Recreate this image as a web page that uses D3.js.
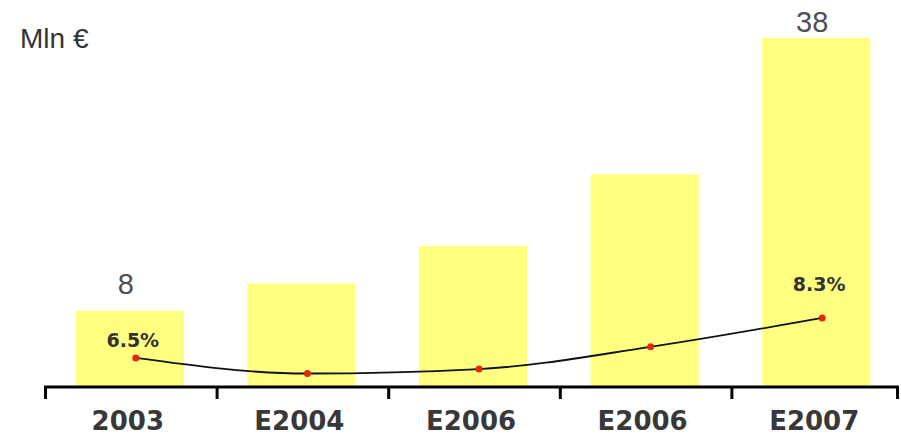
<!DOCTYPE html>
<html><head><meta charset="utf-8">
<script src="https://cdn.jsdelivr.net/npm/d3@7"></script>
<style>html,body{margin:0;padding:0;background:#fff;}svg{display:block;}</style>
</head><body>
<script>
const categories = ["2003", "E2004", "E2006", "E2006 ", "E2007"];
const tickLabels = ["2003", "E2004", "E2006", "E2006", "E2007"];
const revenue = [8.2, 11.2, 15.3, 23.1, 38];
const revenueLabels = ["8", "", "", "", "38"];
const growth = [6.5, 5.8, 6.0, 7.0, 8.3];
const growthLabels = ["6.5%", "", "", "", "8.3%"];
const unitLabel = "Mln €";

const W = 901, H = 438;
const svg = d3.select("body").append("svg").attr("width", W).attr("height", H);

const x = d3.scaleBand().domain(categories).range([44, 902]).paddingInner(0.37).paddingOuter(0.185);
const y = d3.scaleLinear().domain([0, 38]).range([386, 38]);
const y2 = d3.scaleLinear().domain([5, 9]).range([391.3, 302.4]);

const regularFont = "Liberation Sans, Arial, sans-serif";
const boldFont = "DejaVu Sans, Verdana, sans-serif";

// bars
svg.selectAll("rect.bar").data(categories).join("rect")
  .attr("class", "bar")
  .attr("x", d => x(d)).attr("width", x.bandwidth())
  .attr("y", (d, i) => y(revenue[i])).attr("height", (d, i) => y(0) - y(revenue[i]))
  .attr("fill", "#ffff80");

// value labels
svg.selectAll("text.val").data(categories).join("text")
  .attr("class", "val")
  .attr("x", d => x(d) + x.bandwidth() / 2 - 4)
  .attr("y", (d, i) => Math.max(y(revenue[i]) - 17, 32))
  .attr("text-anchor", "middle")
  .attr("font-family", regularFont)
  .attr("font-size", 29).attr("fill", "#505050")
  .text((d, i) => revenueLabels[i]);

// axis
const axisY = 387;
svg.append("line").attr("x1", 44).attr("x2", 899).attr("y1", axisY).attr("y2", axisY)
  .attr("stroke", "#000").attr("stroke-width", 3);
const bounds = d3.range(categories.length + 1).map(i => Math.min(x.range()[0] + 1.5 + i * x.step(), 897.5));
svg.selectAll("line.tick").data(bounds).join("line")
  .attr("class", "tick")
  .attr("x1", d => d).attr("x2", d => d).attr("y1", axisY).attr("y2", axisY + 12)
  .attr("stroke", "#000").attr("stroke-width", 3);
svg.selectAll("text.cat").data(categories).join("text")
  .attr("class", "cat")
  .attr("x", d => x(d) + x.bandwidth() / 2 - 2)
  .attr("y", 430)
  .attr("text-anchor", "middle")
  .attr("font-family", boldFont)
  .attr("font-weight", "bold").attr("font-size", 26).attr("fill", "#383838")
  .text((d, i) => tickLabels[i]);

// growth line
const px = d => x(d) + x.bandwidth() / 2 + 6;
const line = d3.line().x((d, i) => px(categories[i])).y(d => y2(d)).curve(d3.curveMonotoneX);
svg.append("path").datum(growth).attr("d", line)
  .attr("fill", "none").attr("stroke", "#111").attr("stroke-width", 1.8);
svg.selectAll("circle.pt").data(growth).join("circle")
  .attr("class", "pt")
  .attr("cx", (d, i) => px(categories[i])).attr("cy", d => y2(d)).attr("r", 3.5)
  .attr("fill", "#e3260c");
const pctGap = [11, 0, 0, 0, 27];
svg.selectAll("text.pct").data(growth).join("text")
  .attr("class", "pct")
  .attr("x", (d, i) => px(categories[i]) - 3)
  .attr("y", (d, i) => y2(d) - pctGap[i])
  .attr("text-anchor", "middle")
  .attr("font-family", boldFont)
  .attr("font-weight", "bold").attr("font-size", 19).attr("fill", "#333")
  .text((d, i) => growthLabels[i]);

// unit label
svg.append("text").attr("x", 20).attr("y", 48)
  .attr("font-family", regularFont)
  .attr("font-size", 28).attr("fill", "#333")
  .text(unitLabel);
</script>
</body></html>
